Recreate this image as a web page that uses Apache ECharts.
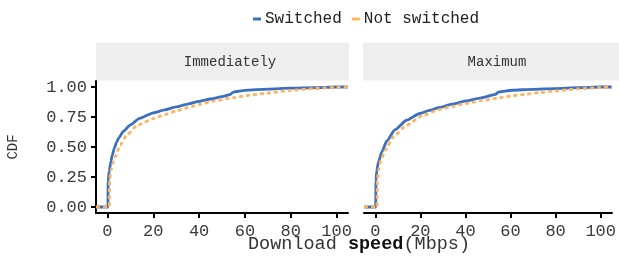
<!DOCTYPE html>
<html>
<head>
<meta charset="utf-8">
<script src="https://cdn.jsdelivr.net/npm/echarts@6/dist/echarts.min.js"></script>
<style>
  html, body { margin: 0; padding: 0; background: #fff; }
  #chart { width: 619px; height: 261px; }
</style>
</head>
<body>
<div id="chart"></div>
<script>
const FONT = '"Liberation Mono", "DejaVu Sans Mono", monospace'

const panels = ['Immediately', 'Maximum']
const seriesNames = ['Switched', 'Not switched']
const xTicks = [0, 20, 40, 60, 80, 100]
const yTicks = [0, 0.25, 0.5, 0.75, 1]

// panel 1: Immediately
const immSwitchedX = [-5, 0.2, 0.3, 0.8, 1.5, 2, 3, 4, 5, 7, 10, 14, 20, 25, 30, 35, 40, 45, 50, 53.5, 55, 60, 70, 80, 90, 100, 105]
const immSwitchedY = [0, 0, 0.22, 0.3, 0.38, 0.425, 0.49, 0.54, 0.578, 0.632, 0.685, 0.738, 0.785, 0.81, 0.834, 0.858, 0.881, 0.9, 0.92, 0.937, 0.958, 0.972, 0.983, 0.99, 0.995, 1, 1]
const immNotX = [-5, 0.8, 0.9, 1.6, 2.5, 3.4, 5.5, 8.4, 13, 20, 25, 30, 35, 40, 47, 55, 62, 70, 80, 90, 100, 105]
const immNotY = [0, 0, 0.22, 0.31, 0.37, 0.418, 0.515, 0.6, 0.68, 0.737, 0.77, 0.8, 0.828, 0.854, 0.885, 0.912, 0.932, 0.95, 0.972, 0.987, 0.998, 1]

// panel 2: Maximum
const maxSwitchedX = [-5, 0.2, 0.3, 0.7, 1.5, 2.9, 5.1, 8.8, 13.9, 19.7, 24, 28.5, 34, 40.2, 47, 53.3, 54.8, 60.6, 70, 79.6, 90, 100, 105]
const maxSwitchedY = [0, 0, 0.22, 0.31, 0.38, 0.46, 0.55, 0.645, 0.723, 0.779, 0.805, 0.829, 0.857, 0.884, 0.91, 0.939, 0.959, 0.973, 0.981, 0.987, 0.994, 1, 1]
const maxNotX = [-5, 0.8, 0.9, 1.5, 2.5, 4.4, 8, 13.9, 21.2, 28.5, 34, 40.2, 47, 54.8, 60, 66.4, 73, 79.6, 90, 100, 105]
const maxNotY = [0, 0, 0.22, 0.31, 0.39, 0.474, 0.584, 0.682, 0.765, 0.812, 0.838, 0.862, 0.886, 0.909, 0.925, 0.939, 0.953, 0.967, 0.984, 0.996, 1]

const BLUE = '#3b6fbf'
const ORANGE = '#fdb462'

const zip = (xs, ys) => xs.map((x, i) => [x, ys[i]])

const grids = [
  { left: 96, top: 81, width: 252, height: 132 },
  { left: 364, top: 81, width: 251, height: 132 },
]

function xAxis(i) {
  return {
    type: 'value', gridIndex: i, min: -5, max: 105,
    splitLine: { show: false },
    axisLine: { show: true, onZero: false, lineStyle: { color: '#000', width: 2 } },
    axisTick: { show: true, customValues: xTicks, length: 5, lineStyle: { color: '#000', width: 2 } },
    axisLabel: { customValues: xTicks, color: '#3a3a3a', fontFamily: FONT, fontSize: 17, margin: 10 },
  }
}

function yAxis(i) {
  const first = i === 0
  return {
    type: 'value', gridIndex: i, min: -0.05, max: 1.05,
    splitLine: { show: false },
    name: first ? 'CDF' : '',
    nameLocation: 'middle', nameGap: 76,
    nameTextStyle: { color: '#333', fontFamily: FONT, fontSize: 14 },
    axisLine: { show: first, onZero: false, lineStyle: { color: '#000', width: 2 } },
    axisTick: { show: first, customValues: yTicks, length: 5, lineStyle: { color: '#000', width: 2 } },
    axisLabel: { show: first, customValues: yTicks, color: '#3a3a3a', fontFamily: FONT, fontSize: 17, margin: 9,
      formatter: (v) => v.toFixed(2) },
  }
}

function line(name, i, data, color, dashed) {
  return {
    name, type: 'line', xAxisIndex: i, yAxisIndex: i, data,
    showSymbol: false, symbol: 'none', smooth: 0.2, smoothMonotone: 'x',
    lineStyle: { color, width: 2.8, type: dashed ? [4, 3] : 'solid' },
    itemStyle: { color },
    z: dashed ? 3 : 2,
    animation: false,
  }
}

const stripGraphics = []
const stripBoxes = [[96, 349], [363, 619]]
const stripTextX = [230, 497]
panels.forEach((p, i) => {
  const [x0, x1] = stripBoxes[i]
  stripGraphics.push({
    type: 'rect', shape: { x: x0, y: 42.5, width: x1 - x0, height: 38 },
    style: { fill: '#eeeeee' }, silent: true,
  })
  stripGraphics.push({
    type: 'text', x: stripTextX[i], y: 62,
    style: { text: p, fill: '#333', font: '14px ' + FONT, align: 'center', verticalAlign: 'middle' },
    silent: true,
  })
})

const chart = echarts.init(document.getElementById('chart'))
chart.setOption({
  animation: false,
  backgroundColor: '#fff',
  legend: {
    left: 248, top: 6,
    data: [
      { name: seriesNames[0], icon: 'rect', itemStyle: { color: BLUE } },
      { name: seriesNames[1], icon: 'rect', itemStyle: { color: ORANGE } },
    ],
    itemWidth: 8, itemHeight: 3, itemGap: 10,
    textStyle: { color: '#222', fontFamily: FONT, fontSize: 16, padding: [0, 0, 0, -1] },
  },
  title: {
    left: 243, top: 230,
    text: '{a|Download }{b|speed}{a|(Mbps)}',
    textStyle: {
      fontWeight: 'normal',
      rich: {
        a: { fontFamily: FONT, fontSize: 18.5, color: '#333', fontWeight: 'normal' },
        b: { fontFamily: FONT, fontSize: 18.5, color: '#111', fontWeight: 'bold' },
      },
    },
  },
  grid: grids,
  xAxis: [xAxis(0), xAxis(1)],
  yAxis: [yAxis(0), yAxis(1)],
  graphic: stripGraphics,
  series: [
    line(seriesNames[0], 0, zip(immSwitchedX, immSwitchedY), BLUE, false),
    line(seriesNames[1], 0, zip(immNotX, immNotY), ORANGE, true),
    line(seriesNames[0], 1, zip(maxSwitchedX, maxSwitchedY), BLUE, false),
    line(seriesNames[1], 1, zip(maxNotX, maxNotY), ORANGE, true),
  ],
})
</script>
</body>
</html>
